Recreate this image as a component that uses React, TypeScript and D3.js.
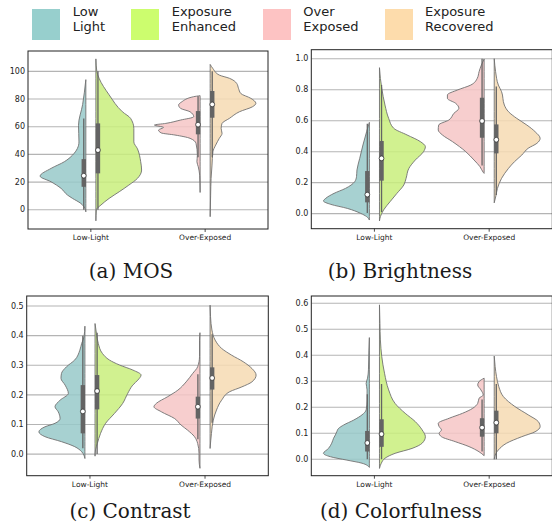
import React from 'react';
import * as d3 from 'd3';

// categories on the x axis and the four hue groups
const categories = ['Low-Light', 'Over-Exposed'];
const legendLabels = [['Low', 'Light'], ['Exposure', 'Enhanced'], ['Over', 'Exposed'], ['Exposure', 'Recovered']];
const legendColors = ['#97cfcd', '#ccfd6e', '#fdc3c3', '#fddcac'];
const violinColors = ['#98c9c9', '#c9ee7d', '#f6c5c5', '#f6dab3'];

// half-violin profiles: [value, relative width]
const mosLowLight = [[94, 0], [76, 0.07], [61, 0.16], [49, 0.15], [39.5, 0.29], [34.7, 0.47], [29.9, 0.76], [24.3, 1], [20.2, 0.76], [15.4, 0.54], [10.6, 0.4], [8.2, 0.29], [4.6, 0.11], [1, 0.02], [-1.5, 0]];
const mosEnhanced = [[109, 0], [100, 0.02], [95, 0.07], [83, 0.29], [70.8, 0.58], [66, 0.76], [58.8, 0.83], [49, 0.83], [44, 0.91], [34.7, 0.98], [28.7, 1], [22.7, 0.91], [17.8, 0.72], [13, 0.51], [8.2, 0.29], [3.4, 0.11], [0, 0.01], [-8, 0]];
const mosOverExposed = [[82.4, 0], [81.7, 0.14], [78, 0.4], [75.7, 0.47], [73.3, 0.43], [70.8, 0.22], [67.2, 0.14], [64.8, 0.43], [62.4, 0.75], [61.2, 1], [59.5, 0.8], [57.6, 0.91], [55.5, 0.85], [54, 0.55], [51.6, 0.22], [48, 0.09], [39.5, 0.06], [34.7, 0.07], [31, 0.04], [25, 0.01], [12.5, 0]];
const mosRecovered = [[105, 0], [102, 0.06], [97.3, 0.2], [95, 0.42], [91.3, 0.58], [87.7, 0.62], [84, 0.67], [80.5, 0.89], [76.9, 1], [74.5, 0.93], [70.8, 0.64], [66, 0.42], [62.4, 0.26], [58.8, 0.24], [55.2, 0.26], [51.6, 0.2], [46.7, 0.12], [41.9, 0.06], [32.3, 0.04], [22.7, 0.02], [10.6, 0.01], [-5, 0]];

const brLowLight = [[0.589, 0], [0.529, 0.06], [0.443, 0.14], [0.357, 0.21], [0.282, 0.27], [0.239, 0.28], [0.206, 0.32], [0.163, 0.52], [0.131, 0.77], [0.099, 0.95], [0.082, 1], [0.06, 0.84], [0.034, 0.48], [0.002, 0.19], [-0.019, 0.06], [-0.041, 0]];
const brEnhanced = [[0.942, 0], [0.873, 0.02], [0.809, 0.05], [0.701, 0.12], [0.615, 0.2], [0.551, 0.31], [0.508, 0.6], [0.465, 0.89], [0.432, 1], [0.4, 0.96], [0.346, 0.78], [0.292, 0.64], [0.228, 0.58], [0.185, 0.53], [0.131, 0.38], [0.077, 0.23], [0.024, 0.09], [-0.019, 0.02], [-0.047, 0]];
const brOverExposed = [[0.998, 0], [0.959, 0.06], [0.916, 0.11], [0.873, 0.15], [0.83, 0.29], [0.798, 0.58], [0.766, 0.8], [0.744, 0.8], [0.712, 0.62], [0.68, 0.55], [0.647, 0.66], [0.604, 0.77], [0.572, 0.99], [0.54, 1], [0.508, 0.91], [0.465, 0.69], [0.4, 0.4], [0.346, 0.22], [0.303, 0.09], [0.267, 0.02], [0.26, 0]];
const brRecovered = [[1.0, 0], [0.916, 0.03], [0.83, 0.09], [0.787, 0.16], [0.701, 0.22], [0.658, 0.31], [0.615, 0.49], [0.572, 0.71], [0.529, 0.89], [0.486, 1], [0.454, 0.93], [0.422, 0.74], [0.378, 0.6], [0.335, 0.44], [0.292, 0.31], [0.228, 0.16], [0.163, 0.07], [0.12, 0.04], [0.07, 0]];

const ctLowLight = [[0.432, 0], [0.396, 0.02], [0.374, 0.07], [0.351, 0.11], [0.318, 0.22], [0.295, 0.4], [0.272, 0.51], [0.256, 0.52], [0.233, 0.43], [0.205, 0.36], [0.182, 0.54], [0.16, 0.65], [0.143, 0.58], [0.12, 0.54], [0.104, 0.65], [0.092, 0.87], [0.075, 1], [0.059, 0.87], [0.042, 0.51], [0.025, 0.22], [0.008, 0.07], [-0.015, 0]];
const ctEnhanced = [[0.441, 0], [0.408, 0.03], [0.374, 0.07], [0.34, 0.16], [0.318, 0.31], [0.301, 0.53], [0.284, 0.82], [0.267, 1], [0.25, 0.93], [0.233, 0.82], [0.205, 0.71], [0.171, 0.6], [0.137, 0.42], [0.104, 0.23], [0.07, 0.12], [0.036, 0.05], [0.014, 0.01], [-0.007, 0]];
const ctOverExposed = [[0.41, 0], [0.385, 0.01], [0.329, 0.01], [0.295, 0.05], [0.272, 0.16], [0.244, 0.3], [0.216, 0.48], [0.194, 0.7], [0.171, 0.95], [0.16, 1], [0.143, 0.84], [0.12, 0.55], [0.098, 0.41], [0.081, 0.27], [0.059, 0.12], [0.036, 0.05], [0.002, 0.02], [-0.02, 0.02], [-0.048, 0]];
const ctRecovered = [[0.503, 0], [0.464, 0.01], [0.419, 0.04], [0.385, 0.11], [0.357, 0.25], [0.334, 0.47], [0.312, 0.72], [0.289, 0.91], [0.267, 1], [0.244, 0.91], [0.227, 0.69], [0.211, 0.43], [0.182, 0.25], [0.149, 0.14], [0.115, 0.07], [0.07, 0.03], [0.019, 0]];

const clLowLight = [[0.468, 0], [0.42, 0.01], [0.344, 0.02], [0.312, 0.04], [0.292, 0.07], [0.267, 0.05], [0.228, 0.05], [0.19, 0.07], [0.171, 0.16], [0.151, 0.34], [0.132, 0.56], [0.119, 0.67], [0.106, 0.71], [0.094, 0.74], [0.081, 0.78], [0.062, 0.82], [0.042, 0.89], [0.023, 1], [0.01, 0.85], [-0.003, 0.49], [-0.015, 0.16], [-0.031, 0]];
const clEnhanced = [[0.594, 0], [0.523, 0.01], [0.459, 0.02], [0.395, 0.05], [0.331, 0.11], [0.267, 0.2], [0.215, 0.34], [0.177, 0.56], [0.145, 0.78], [0.113, 0.93], [0.087, 1], [0.062, 0.93], [0.042, 0.71], [0.023, 0.34], [0.004, 0.12], [-0.015, 0.04], [-0.035, 0]];
const clOverExposed = [[0.312, 0], [0.299, 0.11], [0.286, 0.14], [0.267, 0.07], [0.247, 0.02], [0.235, 0.11], [0.215, 0.14], [0.196, 0.25], [0.177, 0.47], [0.158, 0.76], [0.138, 1], [0.126, 0.98], [0.113, 0.93], [0.1, 0.98], [0.087, 0.93], [0.068, 0.63], [0.049, 0.33], [0.029, 0.11], [0.014, 0]];
const clRecovered = [[0.397, 0], [0.356, 0.02], [0.318, 0.05], [0.279, 0.1], [0.241, 0.2], [0.203, 0.45], [0.171, 0.74], [0.145, 0.96], [0.126, 1], [0.106, 0.89], [0.087, 0.6], [0.062, 0.27], [0.036, 0.09], [0.01, 0.01], [0, 0]];

// inner boxes: [q1, median, q3, whisker low, whisker high]
const mosBoxes = [[16.6, 24.6, 36.6, 0, 66], [26.3, 43.1, 62.4, 0, 100], [54.5, 61.5, 71.3, 38, 82], [66.5, 76.1, 85.8, 38, 100]];
const brBoxes = [[0.073, 0.123, 0.275, 0.005, 0.58], [0.213, 0.357, 0.469, 0.01, 0.83], [0.49, 0.598, 0.748, 0.31, 1.0], [0.389, 0.477, 0.576, 0.12, 0.82]];
const ctBoxes = [[0.07, 0.144, 0.233, 0.02, 0.4], [0.151, 0.213, 0.267, 0, 0.41], [0.12, 0.16, 0.194, 0.05, 0.27], [0.218, 0.257, 0.293, 0.106, 0.405]];
const clBoxes = [[0.03, 0.063, 0.109, 0, 0.25], [0.048, 0.097, 0.154, 0, 0.29], [0.087, 0.122, 0.158, 0.03, 0.23], [0.1, 0.141, 0.187, 0, 0.29]];

const mosTicks = [0, 20, 40, 60, 80, 100];
const brTicks = [0, 0.2, 0.4, 0.6, 0.8, 1.0];
const ctTicks = [0, 0.1, 0.2, 0.3, 0.4, 0.5];
const clTicks = [0, 0.1, 0.2, 0.3, 0.4, 0.5, 0.6];

const panels = [
  { caption: '(a) MOS', profiles: [mosLowLight, mosEnhanced, mosOverExposed, mosRecovered], boxes: mosBoxes, ticks: mosTicks, fmt: d3.format('d'), yDomain: [-13.9, 114.7], left: 28, right: 268, top: 51, bottom: 229, capX: 131, capY: 278 },
  { caption: '(b) Brightness', profiles: [brLowLight, brEnhanced, brOverExposed, brRecovered], boxes: brBoxes, ticks: brTicks, fmt: d3.format('.1f'), yDomain: [-0.097, 1.058], left: 311.3, right: 552.3, top: 49.7, bottom: 228.7, capX: 400, capY: 278 },
  { caption: '(c) Contrast', profiles: [ctLowLight, ctEnhanced, ctOverExposed, ctRecovered], boxes: ctBoxes, ticks: ctTicks, fmt: d3.format('.1f'), yDomain: [-0.073, 0.534], left: 26.7, right: 268.3, top: 296, bottom: 475.7, capX: 130, capY: 518 },
  { caption: '(d) Colorfulness', profiles: [clLowLight, clEnhanced, clOverExposed, clRecovered], boxes: clBoxes, ticks: clTicks, fmt: d3.format('.1f'), yDomain: [-0.063, 0.628], left: 311.3, right: 552.3, top: 296, bottom: 475.7, capX: 401, capY: 518 },
];

const sans = 'DejaVu Sans, sans-serif';
const maxHalf = 0.4; // category units
const edgeGap = 0.044;
const boxOffset = 0.062;

const Panel = ({ p }: { p: any }) => {
  const x = d3.scaleLinear().domain([-0.55, 1.55]).range([p.left, p.right]);
  const y = d3.scaleLinear().domain(p.yDomain).range([p.bottom, p.top]);
  const unit = x(1) - x(0);
  const clipId = 'clip-' + p.caption.replace(/\W/g, '');

  return (
    <g>
      <defs>
        <clipPath id={clipId}>
          <rect x={p.left} y={p.top} width={p.right - p.left} height={p.bottom - p.top} />
        </clipPath>
      </defs>
      <g clipPath={`url(#${clipId})`}>
        {p.ticks.map((t: number) => (
          <line key={t} x1={p.left} x2={p.right} y1={y(t)} y2={y(t)} stroke="#b4b4b4" strokeWidth={1.1} />
        ))}
        {p.profiles.map((prof: number[][], i: number) => {
          const cat = Math.floor(i / 2);
          const side = i % 2 === 0 ? -1 : 1;
          const edge = x(cat + side * edgeGap);
          const area = d3.area<number[]>()
            .y(d => y(d[0]))
            .x0(edge)
            .x1(d => edge + side * d[1] * maxHalf * unit)
            .curve(d3.curveMonotoneY);
          return (
            <path key={i} d={area(prof) || ''} fill={violinColors[i]} fillOpacity={0.85}
              stroke="#707070" strokeWidth={0.9} />
          );
        })}
        {p.boxes.map((b: number[], i: number) => {
          const cat = Math.floor(i / 2);
          const side = i % 2 === 0 ? -1 : 1;
          const cx = x(cat + side * boxOffset);
          return (
            <g key={i}>
              <line x1={cx} x2={cx} y1={y(b[4])} y2={y(b[3])} stroke="#646464" strokeWidth={1.3} />
              <rect x={cx - 2.2} width={4.4} y={y(b[2])} height={y(b[0]) - y(b[2])} fill="#646464" />
              <circle cx={cx} cy={y(b[1])} r={2.4} fill="#fff" stroke="#333" strokeWidth={0.8} />
            </g>
          );
        })}
      </g>
      <rect x={p.left} y={p.top} width={p.right - p.left} height={p.bottom - p.top} fill="none" stroke="#222" strokeWidth={1} />
      {p.ticks.map((t: number) => (
        <text key={t} x={p.left - 3} y={y(t)} dy="0.34em" textAnchor="end" fontFamily={sans} fontSize={8} fill="#222">
          {p.fmt(t)}
        </text>
      ))}
      {categories.map((c, i) => (
        <g key={c}>
          <line x1={x(i)} x2={x(i)} y1={p.bottom} y2={p.bottom + 3} stroke="#222" strokeWidth={0.8} />
          <text x={x(i)} y={p.bottom + 11.3} textAnchor="middle" fontFamily={sans} fontSize={7.5} fill="#222">{c}</text>
        </g>
      ))}
      <text x={p.capX} y={p.capY} textAnchor="middle" fontFamily="DejaVu Serif, serif" fontSize={20} fill="#1a1a1a">
        {p.caption}
      </text>
    </g>
  );
};

const legendPatchX = [32, 131, 263, 385];
const legendTextX = [72.7, 171.7, 303.3, 425];

export default function App() {
  return (
    <svg width={552} height={528} style={{ position: 'absolute', left: 0, top: 0, background: '#fff' }}>
      <rect width={552} height={528} fill="#fff" />
      {legendLabels.map((lines, i) => (
        <g key={i}>
          <rect x={legendPatchX[i]} y={9} width={28} height={31} fill={legendColors[i]} />
          {lines.map((ln, j) => (
            <text key={j} x={legendTextX[i]} y={16.3 + j * 14.5} fontFamily={sans} fontSize={13} fill="#222">{ln}</text>
          ))}
        </g>
      ))}
      {panels.map(p => <Panel key={p.caption} p={p} />)}
    </svg>
  );
}
